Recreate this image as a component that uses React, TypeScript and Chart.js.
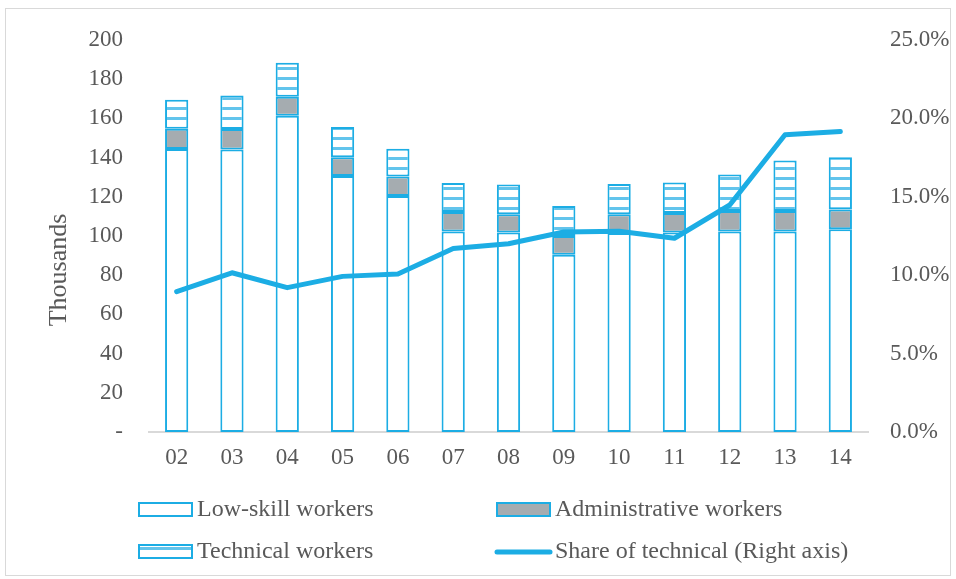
import { useEffect, useRef } from 'react';
import { Chart, registerables } from 'chart.js';

Chart.register(...registerables);

const categories = ['02', '03', '04', '05', '06', '07', '08', '09', '10', '11', '12', '13', '14'];
const lowSkill = [144.3, 144, 161.3, 130.5, 120.3, 102.2, 101.7, 90.4, 101.5, 101.7, 102.2, 102.2, 103.4];
const administrative = [10.4, 10.5, 9.7, 9.6, 10, 10, 9.3, 9.6, 9.5, 10, 10.5, 10.5, 10.1];
const technical = [14.7, 17.1, 17.3, 15.4, 14.2, 14.8, 15.2, 15.2, 15.5, 15.5, 18.6, 25.7, 26.6];
const techShare = [8.95, 10.15, 9.2, 9.92, 10.07, 11.7, 12.0, 12.75, 12.8, 12.35, 14.47, 18.95, 19.16];

const seriesLabels = ['Low-skill workers', 'Administrative workers', 'Technical workers', 'Share of technical (Right axis)'];
const axisTitle = 'Thousands';

const BLUE = '#1cade4';
const GRAY = '#a5acb0';
const TEXT = '#595959';
const FONT = '"Liberation Serif", "Times New Roman", serif';

export default function App() {
  const ref = useRef<HTMLCanvasElement>(null);

  useEffect(() => {
    const canvas = ref.current!;
    const tile = document.createElement('canvas');
    tile.width = 8;
    tile.height = 10;
    const t = tile.getContext('2d')!;
    t.fillStyle = '#ffffff';
    t.fillRect(0, 0, 8, 10);
    t.fillStyle = '#62c4ec';
    t.fillRect(0, 7, 8, 3);
    const pattern = canvas.getContext('2d')!.createPattern(tile, 'repeat')!;

    const decor = {
      id: 'decor',
      beforeDraw(chart: any) {
        const ctx = chart.ctx;
        ctx.save();
        ctx.fillStyle = '#ffffff';
        ctx.fillRect(0, 0, chart.width, chart.height);
        ctx.strokeStyle = '#d9d9d9';
        ctx.lineWidth = 1;
        ctx.strokeRect(5.5, 8.5, 945, 567);
        ctx.restore();
      },
      afterDraw(chart: any) {
        const ctx = chart.ctx;
        ctx.save();
        ctx.translate(59, 270);
        ctx.rotate(-Math.PI / 2);
        ctx.fillStyle = TEXT;
        ctx.font = `26px ${FONT}`;
        ctx.textAlign = 'center';
        ctx.textBaseline = 'middle';
        ctx.fillText(axisTitle, 0, 0);
        ctx.restore();

        const ds = chart.data.datasets;
        const find = (label: string) => ds.find((d: any) => d.label === label);
        const items = [
          { label: seriesLabels[0], bx: 139, by: 503, tx: 197, ty: 510 },
          { label: seriesLabels[1], bx: 497, by: 503, tx: 555, ty: 510 },
          { label: seriesLabels[2], bx: 139, by: 545, tx: 197, ty: 552 },
          { label: seriesLabels[3], bx: 497, by: 545, tx: 555, ty: 552 },
        ];
        ctx.save();
        ctx.font = `24px ${FONT}`;
        ctx.textBaseline = 'middle';
        ctx.textAlign = 'left';
        for (const it of items) {
          const d = find(it.label);
          if (d.type === 'line') {
            ctx.strokeStyle = d.borderColor;
            ctx.lineWidth = 5;
            ctx.lineCap = 'round';
            ctx.beginPath();
            ctx.moveTo(it.bx, it.ty);
            ctx.lineTo(it.bx + 53, it.ty);
            ctx.stroke();
          } else {
            ctx.fillStyle = d.backgroundColor;
            ctx.fillRect(it.bx, it.by, 53, 13);
            ctx.strokeStyle = d.borderColor;
            ctx.lineWidth = 2;
            ctx.strokeRect(it.bx, it.by, 53, 13);
          }
          ctx.fillStyle = TEXT;
          ctx.fillText(d.label, it.tx, it.ty);
        }
        ctx.restore();
      },
    };

    const chart = new Chart(canvas, {
      type: 'bar',
      data: {
        labels: categories,
        datasets: [
          {
            type: 'line',
            label: seriesLabels[3],
            data: techShare,
            yAxisID: 'y1',
            borderColor: BLUE,
            backgroundColor: BLUE,
            borderWidth: 5,
            pointRadius: 0,
            tension: 0,
            borderJoinStyle: 'round',
            borderCapStyle: 'round',
            order: 0,
          } as any,
          {
            label: seriesLabels[0],
            data: lowSkill,
            backgroundColor: '#ffffff',
            borderColor: BLUE,
            borderWidth: 2,
            borderSkipped: false,
            yAxisID: 'y',
            stack: 's',
            order: 1,
          },
          {
            label: seriesLabels[1],
            data: administrative,
            backgroundColor: GRAY,
            borderColor: BLUE,
            borderWidth: 2,
            borderSkipped: false,
            yAxisID: 'y',
            stack: 's',
            order: 1,
          },
          {
            label: seriesLabels[2],
            data: technical,
            backgroundColor: pattern,
            borderColor: BLUE,
            borderWidth: 2,
            borderSkipped: false,
            yAxisID: 'y',
            stack: 's',
            order: 1,
          },
        ],
      },
      options: {
        responsive: false,
        animation: false,
        devicePixelRatio: 1,
        datasets: { bar: { barPercentage: 0.42, categoryPercentage: 1 } },
        layout: { padding: { top: 38, left: 0, right: 0, bottom: 0 } },
        plugins: { legend: { display: false }, tooltip: { enabled: false } },
        scales: {
          x: {
            stacked: true,
            grid: { display: false, drawTicks: false },
            border: { display: true, color: '#d9d9d9', width: 2 },
            ticks: { color: TEXT, font: { family: FONT, size: 23 }, padding: 12, maxRotation: 0 },
            afterFit: (s: any) => { s.height = 147; },
          },
          y: {
            stacked: true,
            position: 'left',
            min: 0,
            max: 200,
            grid: { display: false, drawTicks: false },
            border: { display: false },
            ticks: {
              stepSize: 20,
              color: TEXT,
              font: { family: FONT, size: 23 },
              padding: 26,
              callback: (v: any) => (Number(v) === 0 ? '-' : String(v)),
            },
            afterFit: (s: any) => { s.width = 149; },
          },
          y1: {
            stacked: false,
            position: 'right',
            min: 0,
            max: 25,
            grid: { display: false, drawTicks: false },
            border: { display: false },
            ticks: {
              stepSize: 5,
              color: TEXT,
              font: { family: FONT, size: 23 },
              padding: 22,
              callback: (v: any) => Number(v).toFixed(1) + '%',
            },
            afterFit: (s: any) => { s.width = 88; },
          },
        },
      } as any,
      plugins: [decor],
    });

    return () => chart.destroy();
  }, []);

  return (
    <div style={{ position: 'fixed', left: 0, top: 0, width: 956, height: 579 }}>
      <canvas ref={ref} width={956} height={579} style={{ width: 956, height: 579, display: 'block' }} />
    </div>
  );
}
